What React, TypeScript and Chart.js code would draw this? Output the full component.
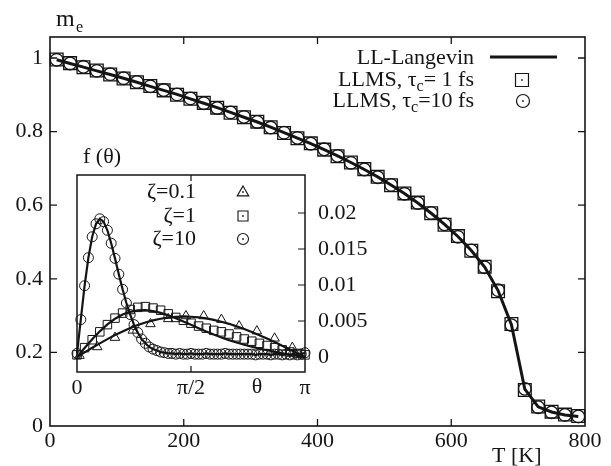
import React, { useEffect, useRef } from 'react';
import { Chart, registerables } from 'chart.js';

Chart.register(...registerables);

const FONT = '"Liberation Serif"';
const INK = '#141414';

// ---------- main panel data ----------
const temperatures = [10, 30, 50, 70, 90, 110, 130, 150, 170, 190, 210, 230, 250, 270, 290, 310, 330, 350, 370, 390, 410, 430, 450, 470, 490, 510, 530, 550, 570, 590, 610, 630, 650, 670, 690, 710, 730, 750, 770, 790];
const mLangevin = [0.995, 0.985, 0.975, 0.965, 0.955, 0.945, 0.934, 0.923, 0.912, 0.901, 0.889, 0.877, 0.865, 0.852, 0.839, 0.826, 0.812, 0.797, 0.782, 0.767, 0.751, 0.734, 0.716, 0.697, 0.677, 0.655, 0.632, 0.606, 0.578, 0.548, 0.515, 0.477, 0.432, 0.368, 0.275, 0.100, 0.052, 0.038, 0.030, 0.026];
const mLLMS1 = [0.996, 0.986, 0.975, 0.966, 0.955, 0.944, 0.934, 0.924, 0.912, 0.900, 0.889, 0.878, 0.865, 0.851, 0.839, 0.827, 0.812, 0.796, 0.782, 0.768, 0.751, 0.733, 0.716, 0.698, 0.677, 0.654, 0.632, 0.607, 0.578, 0.547, 0.516, 0.476, 0.433, 0.366, 0.277, 0.098, 0.053, 0.039, 0.031, 0.027];
const mLLMS10 = [0.995, 0.985, 0.976, 0.965, 0.956, 0.945, 0.935, 0.923, 0.913, 0.901, 0.890, 0.877, 0.864, 0.852, 0.840, 0.826, 0.811, 0.797, 0.783, 0.767, 0.752, 0.734, 0.715, 0.697, 0.676, 0.655, 0.631, 0.606, 0.579, 0.548, 0.514, 0.477, 0.431, 0.369, 0.274, 0.101, 0.051, 0.037, 0.030, 0.026];
const mainXTicks = [0, 200, 400, 600, 800];
const mainYTicks = [0, 0.2, 0.4, 0.6, 0.8, 1];
const mainYLabels = ['0', '0.2', '0.4', '0.6', '0.8', '1'];
const mainLegend = ['LL-Langevin', 'LLMS, τ|c|= 1 fs', 'LLMS, τ|c|=10 fs'];

// ---------- inset data (theta in degrees) ----------
const thetaFine = [0, 3, 6, 9, 12, 15, 18, 21, 24, 27, 30, 33, 36, 39, 42, 45, 48, 51, 54, 57, 60, 63, 66, 69, 72, 75, 78, 81, 84, 87, 90, 93, 96, 99, 102, 105, 108, 111, 114, 117, 120, 123, 126, 129, 132, 135, 138, 141, 144, 147, 150, 153, 156, 159, 162, 165, 168, 171, 174, 177, 180];
const thetaMid = [0, 6, 12, 18, 24, 30, 36, 42, 48, 54, 60, 66, 72, 78, 84, 90, 96, 102, 108, 114, 120, 126, 132, 138, 144, 150, 156, 162, 168, 174, 180];
const thetaTri = [2, 16, 30, 44, 58, 72, 86, 100, 114, 128, 142, 156, 170];
const fZeta10 = [0.0005, 0.0052, 0.0099, 0.0138, 0.0167, 0.0185, 0.0192, 0.0188, 0.0176, 0.0158, 0.0137, 0.0115, 0.0094, 0.0075, 0.0059, 0.0045, 0.0034, 0.0025, 0.0019, 0.0014, 0.0011, 0.0009, 0.0007, 0.0006, 0.0005,
  0.0005, 0.0004, 0.0005, 0.0004, 0.0004, 0.0005, 0.0004, 0.0004, 0.0004, 0.0005, 0.0004, 0.0004, 0.0004, 0.0004, 0.0005, 0.0004, 0.0004, 0.0004, 0.0004, 0.0004, 0.0004, 0.0004, 0.0003, 0.0004, 0.0004, 0.0004, 0.0003, 0.0004, 0.0004, 0.0003, 0.0004, 0.0003, 0.0004, 0.0003, 0.0004, 0.0006];
const fLineZeta01 = [0, 0.00065, 0.00128, 0.0019, 0.00249, 0.00305, 0.00356, 0.00403, 0.00444, 0.0048, 0.00509, 0.00532, 0.00548, 0.00558, 0.00562, 0.00559, 0.0055, 0.00536, 0.00516, 0.0049, 0.00461, 0.00426, 0.00389, 0.00347, 0.00303, 0.00256, 0.00208, 0.00157, 0.00105, 0.00053, 0];
const fLineZeta1 = [0, 0.00126, 0.00247, 0.00357, 0.00453, 0.00531, 0.0059, 0.00628, 0.00648, 0.00651, 0.00638, 0.00613, 0.00579, 0.00538, 0.00493, 0.00447, 0.004, 0.00355, 0.00312, 0.00272, 0.00235, 0.00201, 0.0017, 0.00142, 0.00117, 0.00094, 0.00073, 0.00053, 0.00035, 0.00017, 0];
const fSqZeta1 = [0.0003, 0.0013, 0.0024, 0.0035, 0.0045, 0.0054, 0.0061, 0.0066, 0.0069, 0.0070, 0.0068, 0.0065, 0.0060, 0.0055, 0.0051, 0.0047, 0.0043, 0.0040, 0.0037, 0.0035, 0.0032, 0.0028, 0.0025, 0.0022, 0.0019, 0.0016, 0.0013, 0.0010, 0.0007, 0.0005, 0.0003];
const fTriZeta01 = [0.0002, 0.0014, 0.0027, 0.0037, 0.0046, 0.0053, 0.0057, 0.0057, 0.0052, 0.0043, 0.0036, 0.0026, 0.0013];
const insetXTicks = [0, 90, 180];
const insetXLabels = ['0', 'π/2', 'π'];
const insetYTicks = [0, 0.005, 0.01, 0.015, 0.02];
const insetYLabels = ['0', '0.005', '0.01', '0.015', '0.02'];
const insetLegend = ['ζ=0.1', 'ζ=1', 'ζ=10'];

const zip = (xs: number[], ys: number[]) => xs.map((x, i) => ({ x, y: ys[i] }));
const F22 = `22px ${FONT}`;
const F16 = `16px ${FONT}`;

function drawRich(ctx: CanvasRenderingContext2D, text: string, xRight: number, y: number) {
  const parts = text.split('|');
  let w = 0;
  parts.forEach((p, i) => {
    ctx.font = i % 2 ? F16 : F22;
    w += ctx.measureText(p).width;
  });
  let x = xRight - w;
  ctx.textAlign = 'left';
  ctx.textBaseline = 'middle';
  parts.forEach((p, i) => {
    const sub = i % 2 === 1;
    ctx.font = sub ? F16 : F22;
    ctx.fillText(p, x, sub ? y + 7 : y);
    x += ctx.measureText(p).width;
  });
}

function symbol(ctx: CanvasRenderingContext2D, kind: string, x: number, y: number, s: number) {
  ctx.beginPath();
  if (kind === 'rect') ctx.rect(x - s, y - s, 2 * s, 2 * s);
  else if (kind === 'circle') ctx.arc(x, y, s, 0, Math.PI * 2);
  else {
    ctx.moveTo(x, y - s * 1.1);
    ctx.lineTo(x + s * 1.05, y + s * 0.7);
    ctx.lineTo(x - s * 1.05, y + s * 0.7);
    ctx.closePath();
  }
  ctx.stroke();
  ctx.fillRect(x - 0.8, y - 0.8, 1.6, 1.6);
}

// inset box in canvas pixels
const INSET = { left: 77, right: 305, top: 175, bottom: 372 };

const decor = {
  id: 'decor',
  afterLayout(chart: any) {
    // place the inset scales into their own small box
    const ix = chart.scales.ix;
    const iy = chart.scales.iy;
    ix.left = INSET.left;
    ix.right = INSET.right;
    ix.width = INSET.right - INSET.left;
    ix.configure();
    iy.top = INSET.top;
    iy.bottom = INSET.bottom;
    iy.height = INSET.bottom - INSET.top;
    iy.configure();
  },
  afterDraw(chart: any) {
    const { ctx, chartArea: a, scales } = chart;
    const xs = scales.x;
    const ys = scales.y;
    const ix = scales.ix;
    const iy = scales.iy;
    ctx.save();
    ctx.strokeStyle = INK;
    ctx.fillStyle = INK;

    // main frame and inward ticks
    ctx.lineWidth = 1.6;
    ctx.strokeRect(a.left, a.top, a.right - a.left, a.bottom - a.top);
    ctx.lineWidth = 1.3;
    ctx.beginPath();
    mainXTicks.forEach((v) => {
      const px = xs.getPixelForValue(v);
      if (px <= a.left + 1 || px >= a.right - 1) return;
      ctx.moveTo(px, a.bottom);
      ctx.lineTo(px, a.bottom - 7);
      ctx.moveTo(px, a.top);
      ctx.lineTo(px, a.top + 7);
    });
    mainYTicks.forEach((v) => {
      const py = ys.getPixelForValue(v);
      if (py >= a.bottom - 1 || py <= a.top + 1) return;
      ctx.moveTo(a.left, py);
      ctx.lineTo(a.left + 7, py);
      ctx.moveTo(a.right, py);
      ctx.lineTo(a.right - 7, py);
    });
    ctx.stroke();

    ctx.textBaseline = 'alphabetic';
    ctx.textAlign = 'left';
    ctx.font = `24px ${FONT}`;
    ctx.fillText('m', 56, 26);
    ctx.font = F16;
    ctx.fillText('e', 76, 32);
    ctx.font = F22;
    ctx.fillText('T [K]', 492, 462);

    const rows = [58, 80, 101];
    mainLegend.forEach((t, i) => drawRich(ctx, t, 474, rows[i]));
    ctx.lineWidth = 3;
    ctx.beginPath();
    ctx.moveTo(490, 57);
    ctx.lineTo(557, 57);
    ctx.stroke();
    ctx.lineWidth = 1.2;
    symbol(ctx, 'rect', 522, 80, 6.5);
    symbol(ctx, 'circle', 523, 101, 6.5);

    // inset frame, ticks and labels
    const L = ix.getPixelForValue(0);
    const R = ix.getPixelForValue(180);
    const T = INSET.top;
    const B = INSET.bottom;
    ctx.lineWidth = 1.5;
    ctx.strokeRect(L, T, R - L, B - T);
    ctx.lineWidth = 1.2;
    ctx.beginPath();
    insetYTicks.forEach((v) => {
      const py = iy.getPixelForValue(v);
      ctx.moveTo(R, py);
      ctx.lineTo(R - 7, py);
    });
    insetXTicks.forEach((v) => {
      const px = ix.getPixelForValue(v);
      if (px <= L + 1 || px >= R - 1) return;
      ctx.moveTo(px, B);
      ctx.lineTo(px, B - 6);
      ctx.moveTo(px, T);
      ctx.lineTo(px, T + 6);
    });
    ctx.stroke();

    ctx.font = F22;
    ctx.textAlign = 'left';
    ctx.textBaseline = 'middle';
    insetYTicks.forEach((v, i) => ctx.fillText(insetYLabels[i], R + 13, iy.getPixelForValue(v)));
    ctx.textAlign = 'center';
    ctx.textBaseline = 'top';
    insetXTicks.forEach((v, i) => ctx.fillText(insetXLabels[i], ix.getPixelForValue(v), B + 5));
    ctx.textBaseline = 'middle';
    ctx.fillText('θ', 257, 387);
    ctx.textAlign = 'left';
    ctx.textBaseline = 'alphabetic';
    ctx.fillText('f (θ)', 83, 163);

    const irows = [192, 216, 239];
    insetLegend.forEach((t, i) => drawRich(ctx, t, 196, irows[i]));
    ctx.lineWidth = 1.1;
    symbol(ctx, 'tri', 243, 192, 5.5);
    symbol(ctx, 'rect', 243, 216, 5);
    symbol(ctx, 'circle', 243, 239, 5.5);
    ctx.restore();
  },
};

function config(): any {
  const ins = { xAxisID: 'ix', yAxisID: 'iy', clip: false };
  const lineDs = (data: any[]) => ({ ...ins, data, showLine: true, borderColor: INK, borderWidth: 2.2, pointRadius: 0, tension: 0 });
  const markDs = (data: any[], style: string, r: number) => ({ ...ins, data, showLine: false, pointStyle: style, pointRadius: r, borderColor: INK, borderWidth: 1, backgroundColor: 'rgba(0,0,0,0)' });
  return {
    type: 'scatter',
    data: {
      datasets: [
        { label: 'LL-Langevin', data: zip(temperatures, mLangevin), showLine: true, borderColor: INK, borderWidth: 3, pointRadius: 0, tension: 0, clip: false },
        { label: 'LLMS 1 fs', data: zip(temperatures, mLLMS1), showLine: false, pointStyle: 'rect', pointRadius: 9, borderColor: INK, borderWidth: 1.3, backgroundColor: 'rgba(0,0,0,0)', clip: false },
        { label: 'LLMS 10 fs', data: zip(temperatures, mLLMS10), showLine: false, pointStyle: 'circle', pointRadius: 6.3, borderColor: INK, borderWidth: 1.3, backgroundColor: 'rgba(0,0,0,0)', clip: false },
        lineDs(zip(thetaMid, fLineZeta01)),
        lineDs(zip(thetaMid, fLineZeta1)),
        lineDs(zip(thetaFine, fZeta10)),
        markDs(zip(thetaFine, fZeta10), 'circle', 5),
        markDs(zip(thetaMid, fSqZeta1), 'rect', 6),
        markDs(zip(thetaTri, fTriZeta01), 'triangle', 5.5),
      ],
    },
    options: {
      animation: false,
      responsive: false,
      layout: { padding: { left: 0, right: 26, top: 37, bottom: 10 } },
      plugins: { legend: { display: false } },
      scales: {
        x: {
          min: 0, max: 800,
          afterBuildTicks: (s: any) => { s.ticks = mainXTicks.map((v) => ({ value: v })); },
          afterFit: (s: any) => { s.height = 30; },
          grid: { display: false, drawTicks: false },
          border: { display: false },
          ticks: { padding: 2, color: INK, font: { family: FONT, size: 22 }, maxRotation: 0, callback: (v: number) => String(v) },
        },
        y: {
          min: 0, max: 1.057,
          afterBuildTicks: (s: any) => { s.ticks = mainYTicks.map((v) => ({ value: v })); },
          afterFit: (s: any) => { s.width = 50; },
          grid: { display: false, drawTicks: false },
          border: { display: false },
          ticks: { padding: 7, color: INK, font: { family: FONT, size: 22 }, callback: (v: number) => mainYLabels[mainYTicks.indexOf(v)] ?? String(v) },
        },
        ix: { type: 'linear', axis: 'x', position: 'bottom', display: false, min: 0, max: 180 },
        iy: { type: 'linear', axis: 'y', position: 'right', display: false, min: -0.00208, max: 0.02528 },
      },
    },
    plugins: [decor],
  };
}

export default function App() {
  const ref = useRef<HTMLCanvasElement>(null);
  useEffect(() => {
    const chart = new Chart(ref.current as HTMLCanvasElement, config());
    return () => chart.destroy();
  }, []);
  return (
    <div style={{ position: 'absolute', left: 0, top: 0, width: 611, height: 466, background: '#fff' }}>
      <canvas ref={ref} width={611} height={466} />
    </div>
  );
}
